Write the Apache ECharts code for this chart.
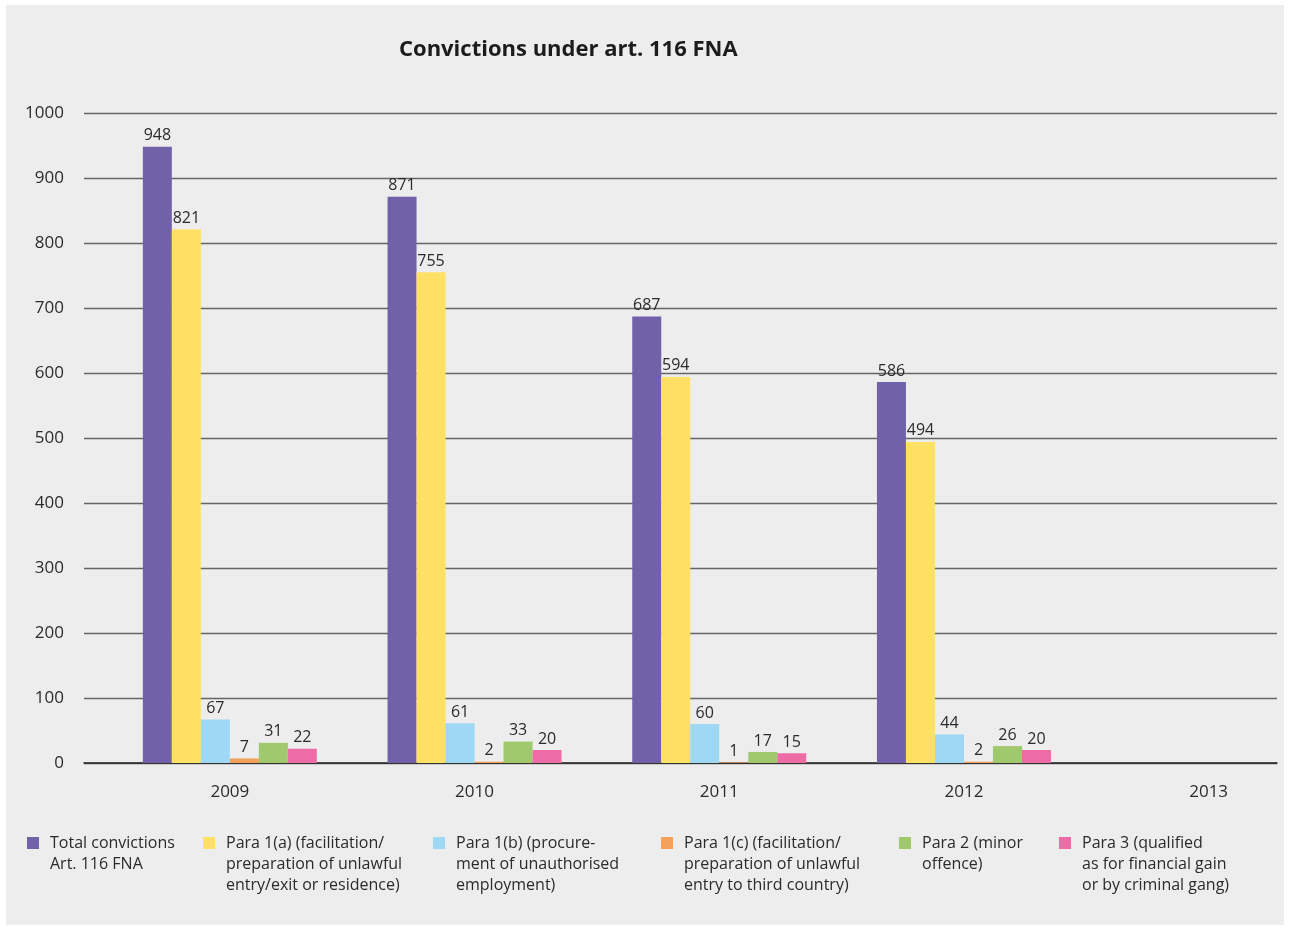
<!DOCTYPE html>
<html>
<head>
<meta charset="utf-8">
<script src="https://cdn.jsdelivr.net/npm/echarts@6/dist/echarts.min.js"></script>
<style>
  html, body { margin: 0; padding: 0; background: #ffffff; overflow: hidden; }
  #panel { position: absolute; left: 6px; top: 5px; width: 1278px; height: 920px; background: #ededed; overflow: hidden; }
  #chart { position: absolute; left: 0; top: 0; width: 1400px; height: 920px; }
</style>
</head>
<body>
<div id="panel"><div id="chart"></div></div>
<script>
// Conviction counts per year, one array per paragraph of art. 116 FNA
const years = ['2009', '2010', '2011', '2012', '2013'];
const totalConvictions = [948, 871, 687, 586, null];
const para1a = [821, 755, 594, 494, null];
const para1b = [67, 61, 60, 44, null];
const para1c = [7, 2, 1, 2, null];
const para2 = [31, 33, 17, 26, null];
const para3 = [22, 20, 15, 20, null];

const seriesNames = [
  'Total convictions\nArt. 116 FNA',
  'Para 1(a) (facilitation/\npreparation of unlawful\nentry/exit or residence)',
  'Para 1(b) (procure-\nment of unauthorised\nemployment)',
  'Para 1(c) (facilitation/\npreparation of unlawful\nentry to third country)',
  'Para 2 (minor\noffence)',
  'Para 3 (qualified\nas for financial gain\nor by criminal gang)'
];
const seriesData = [totalConvictions, para1a, para1b, para1c, para2, para3];
const colors = ['#7161a9', '#fee065', '#9fd8f5', '#f3a05a', '#9fc96c', '#ee6ca5'];

const FONT = '"Open Sans", "Noto Sans", sans-serif';
const TEXT = '#2b2b2b';

// Legend entries sit at fixed horizontal positions along the bottom
const legendLeft = [21, 197, 427, 655, 893, 1053];
const LINE_H = 21;

// Square swatch aligned with the first text line; the zero-length
// subpaths stretch the icon box to the full height of the text block
function swatch(lines) {
  const h = LINE_H * lines;
  return 'path://M0,0L0,0M0,4.5L12,4.5L12,16.5L0,16.5Z' + 'M0,' + h + 'L0,' + h;
}

const legends = seriesNames.map((name, i) => {
  const n = name.split('\n').length;
  return {
    show: true,
    data: [name],
    left: legendLeft[i],
    top: 827.5,
    padding: 0,
    itemWidth: 12,
    itemHeight: LINE_H * n,
    icon: swatch(n),
    selectedMode: false,
    itemStyle: { borderWidth: 0 },
    textStyle: {
      fontFamily: FONT,
      fontSize: 16,
      color: TEXT,
      lineHeight: LINE_H,
      padding: [0, 0, 0, 6]
    }
  };
});

const chart = echarts.init(document.getElementById('chart'), null, { renderer: 'canvas' });

chart.setOption({
  backgroundColor: 'transparent',
  animation: false,
  title: {
    text: 'Convictions under art. 116 FNA',
    left: 388,
    top: 29,
    textStyle: { fontFamily: FONT, fontSize: 22, fontWeight: 'bold', color: '#1c1c1c' }
  },
  legend: legends,
  grid: [
    // value grid: y labels, gridlines and baseline
    { left: 78, top: 108, width: 1193, height: 650, containLabel: false },
    // category grid carrying the bars
    { left: 101.5, top: 108, width: 1223.5, height: 650, containLabel: false }
  ],
  xAxis: [
    {
      gridIndex: 0, type: 'category', data: years,
      axisLine: { show: true, lineStyle: { color: '#222', width: 1.5 } },
      axisTick: { show: false }, axisLabel: { show: false }, splitLine: { show: false }
    },
    {
      gridIndex: 1, type: 'category', data: years,
      axisLine: { show: false }, axisTick: { show: false },
      axisLabel: { margin: 21, fontFamily: FONT, fontSize: 17, color: TEXT }
    }
  ],
  yAxis: [
    {
      gridIndex: 0, type: 'value', min: 0, max: 1000, interval: 100,
      axisLine: { show: false }, axisTick: { show: false },
      axisLabel: { margin: 20, fontFamily: FONT, fontSize: 17, color: TEXT, formatter: v => String(v) },
      splitLine: { show: true, lineStyle: { color: '#666666', width: 1.3 } }
    },
    {
      gridIndex: 1, type: 'value', min: 0, max: 1000, interval: 100,
      show: false, splitLine: { show: false }
    }
  ],
  series: seriesNames.map((name, i) => ({
    name: name,
    type: 'bar',
    xAxisIndex: 1,
    yAxisIndex: 1,
    data: seriesData[i],
    barWidth: 29,
    barGap: '0%',
    itemStyle: { color: colors[i] },
    label: {
      show: true,
      position: 'top',
      distance: 3,
      fontFamily: FONT,
      fontSize: 16,
      color: TEXT
    }
  }))
});
</script>
</body>
</html>
